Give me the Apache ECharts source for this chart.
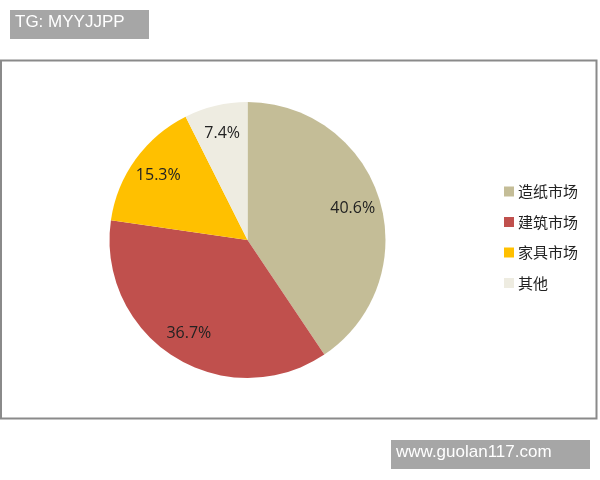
<!DOCTYPE html>
<html>
<head>
<meta charset="utf-8">
<script src="https://cdn.jsdelivr.net/npm/echarts@6/dist/echarts.min.js"></script>
<style>
html,body{margin:0;padding:0;background:#fff;}
#main{width:600px;height:480px;}
</style>
</head>
<body>
<div id="main"></div>
<script>
// 数据
var categories = ['造纸市场', '建筑市场', '家具市场', '其他'];
var values = [40.6, 36.7, 15.3, 7.4];
var colors = ['#c4bd97', '#c0504d', '#ffc000', '#eeece1'];

var pieData = [];
for (var i = 0; i < categories.length; i++) {
	pieData.push({name: categories[i], value: values[i], itemStyle: {color: colors[i]}});
}
// 标签用透明环
var labelData = [];
for (var i = 0; i < categories.length; i++) {
	labelData.push({name: categories[i], value: values[i]});
}

var chart = echarts.init(document.getElementById('main'));
var option = {
	animation: false,
	backgroundColor: '#fff',
	graphic: [
		{type: 'rect', shape: {x: 1, y: 60.5, width: 595.5, height: 358}, style: {fill: '#fff', stroke: '#8a8a8a', lineWidth: 2}, z: -10},
		{type: 'rect', shape: {x: 10, y: 10, width: 139, height: 29}, style: {fill: '#a6a6a6'}},
		{type: 'text', left: 15, top: 14, style: {text: 'TG: MYYJJPP', fill: '#fff', font: '17px "Liberation Sans", Arial, sans-serif'}},
		{type: 'rect', shape: {x: 391, y: 440, width: 199, height: 29}, style: {fill: '#a6a6a6'}},
		{type: 'text', left: 396, top: 444, style: {text: 'www.guolan117.com', fill: '#fff', font: '17px "Liberation Sans", Arial, sans-serif'}}
	],
	legend: {
		orient: 'vertical',
		left: 499,
		top: 179,
		itemWidth: 10,
		itemHeight: 10,
		itemGap: 15.5,
		icon: 'rect',
		data: categories,
		textStyle: {fontSize: 15, color: '#222', fontFamily: '"Noto Sans CJK SC", sans-serif', padding: [0, 0, 0, -1]}
	},
	series: [
		{
			name: '市场',
			type: 'pie',
			center: [247.5, 240],
			radius: [0, 138],
			startAngle: 90,
			clockwise: true,
			label: {show: false},
			labelLine: {show: false},
			data: pieData
		},
		{
			name: '标签',
			type: 'pie',
			center: [247.5, 240],
			radius: [76, 138],
			startAngle: 90,
			clockwise: true,
			silent: true,
			legendHoverLink: false,
			itemStyle: {color: 'rgba(0,0,0,0)'},
			label: {
				show: true,
				position: 'inside',
				formatter: function(p){ return p.value.toFixed(1) + '%'; },
				fontSize: 16,
				color: '#222',
				fontFamily: '"Open Sans", "Noto Sans", sans-serif'
			},
			labelLine: {show: false},
			data: labelData
		}
	]
};
chart.setOption(option);
</script>
</body>
</html>
